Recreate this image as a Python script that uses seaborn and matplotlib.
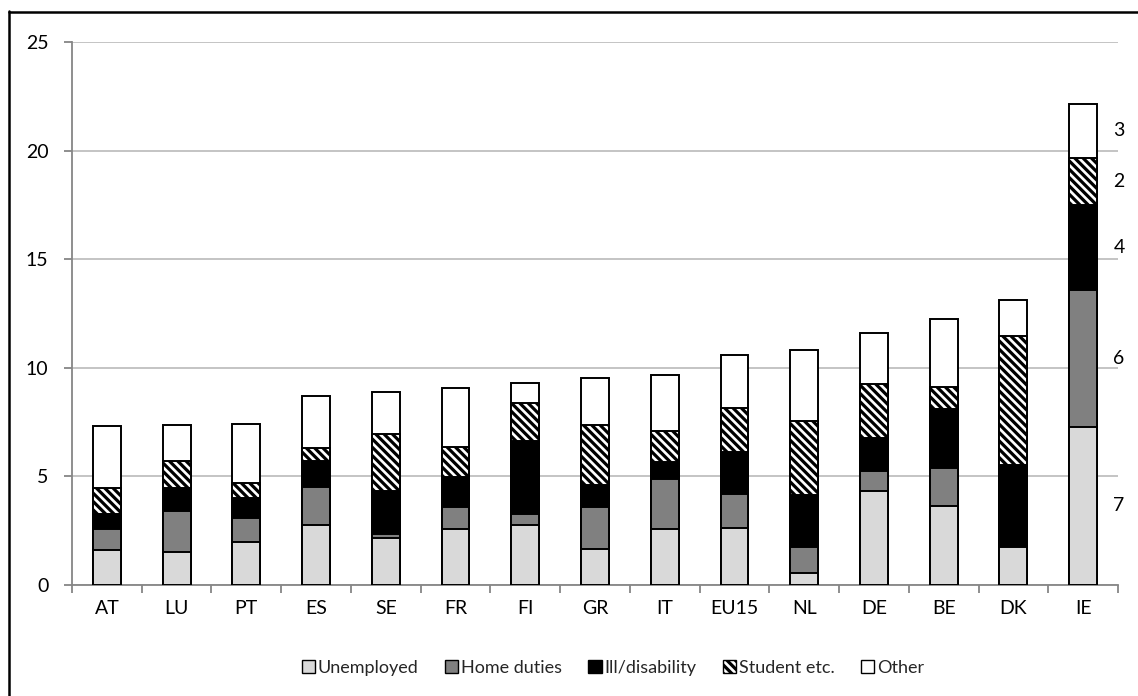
import numpy as np
import pandas as pd
import matplotlib
matplotlib.use("Agg")
import matplotlib.pyplot as plt
from matplotlib.patches import Patch
from matplotlib.lines import Line2D
import seaborn as sns

countries = ["AT", "LU", "PT", "ES", "SE", "FR", "FI", "GR", "IT", "EU15", "NL", "DE", "BE", "DK", "IE"]
unemployed = [1.63, 1.51, 1.98, 2.76, 2.17, 2.57, 2.76, 1.64, 2.57, 2.63, 0.57, 4.31, 3.63, 1.77, 7.29]
home_duties = [0.97, 1.90, 1.09, 1.73, 0.16, 1.04, 0.51, 1.97, 2.31, 1.58, 1.17, 0.94, 1.76, 0.00, 6.31]
ill_disability = [0.67, 1.06, 0.92, 1.22, 2.00, 1.34, 3.34, 0.98, 0.79, 1.92, 2.39, 1.53, 2.73, 3.75, 3.91]
student = [1.18, 1.24, 0.71, 0.60, 2.63, 1.41, 1.78, 2.78, 1.44, 2.04, 3.40, 2.48, 0.98, 5.93, 2.17]
other = [2.85, 1.65, 2.73, 2.38, 1.93, 2.73, 0.92, 2.14, 2.54, 2.41, 3.30, 2.32, 3.16, 1.66, 2.48]
series_names = ["Unemployed", "Home duties", "Ill/disability", "Student etc.", "Other"]
ie_rank_labels = ["7", "6", "4", "2", "3"]

series = [unemployed, home_duties, ill_disability, student, other]
facecolors = ["#D9D9D9", "#808080", "#000000", "#FFFFFF", "#FFFFFF"]
hatches = [None, None, None, "\\\\\\\\", None]

sns.set_theme(style="white")
plt.rcParams["font.family"] = ["Lato", "DejaVu Sans"]
plt.rcParams["hatch.linewidth"] = 2.3
plt.rcParams["hatch.color"] = "black"

fig = plt.figure(figsize=(11.38, 6.96), dpi=100)
ax = fig.add_axes([72 / 1138, 1 - 585 / 696, (1118 - 72) / 1138, (585 - 42) / 696])

cum = np.zeros(len(countries))
cums = []
for s in series:
    cum = cum + np.array(s)
    cums.append(cum.copy())

# draw cumulative totals from top layer to bottom layer (overlapping)
for i in reversed(range(len(series))):
    d = pd.DataFrame({"country": countries, "value": cums[i]})
    sns.barplot(data=d, x="country", y="value", order=countries, ax=ax,
                color=facecolors[i], saturation=1, width=0.4,
                edgecolor="black", linewidth=1.4, hatch=hatches[i], zorder=3)

ax.set_ylim(0, 25)
ax.set_xlim(-0.5, len(countries) - 0.5)
ax.set_xlabel("")
ax.set_ylabel("")
ax.set_yticks(range(0, 26, 5))
ax.yaxis.grid(True, color="#BFBFBF", linewidth=1.3, zorder=0)
ax.xaxis.grid(False)
ax.set_axisbelow(True)

for sp in ["top", "right"]:
    ax.spines[sp].set_visible(False)
for sp in ["left", "bottom"]:
    ax.spines[sp].set_color("#868686")
    ax.spines[sp].set_linewidth(1.3)

ax.tick_params(axis="y", which="major", direction="out", length=6, width=1.3,
               color="#868686", labelsize=14, pad=11, left=True)
ax.tick_params(axis="x", which="major", length=0, labelsize=14, pad=11)
ax.set_xticks(np.arange(-0.5, len(countries), 1.0), minor=True)
ax.tick_params(axis="x", which="minor", direction="out", length=6, width=1.3,
               color="#868686", bottom=True)
for lab in ax.get_xticklabels() + ax.get_yticklabels():
    lab.set_color("black")

# rank labels to the right of IE bar, at segment midpoints
ie = len(countries) - 1
trans = matplotlib.transforms.blended_transform_factory(fig.transFigure, ax.transData)
prev = 0.0
for i, lab in enumerate(ie_rank_labels):
    top = cums[i][ie]
    mid = (prev + top) / 2
    prev = top
    ax.text(1119 / 1138, mid, lab, transform=trans, ha="center", va="center",
            fontsize=14, color="black")

handles = [Patch(facecolor=facecolors[i], edgecolor="black", linewidth=1.0,
                 hatch=hatches[i], label=series_names[i]) for i in range(len(series))]
fig.legend(handles=handles, loc="center", bbox_to_anchor=(613 / 1138, 1 - 668 / 696),
           ncol=5, frameon=False, fontsize=13, handlelength=0.75, handleheight=0.75,
           handletextpad=0.15, columnspacing=1.45)

# outer border (left and top visible)
fig.add_artist(Line2D([8.5 / 1138, 8.5 / 1138], [0, 1 - 11 / 696], transform=fig.transFigure,
                      color="black", linewidth=1.8))
fig.add_artist(Line2D([8.5 / 1138, 1], [1 - 11.5 / 696, 1 - 11.5 / 696], transform=fig.transFigure,
                      color="black", linewidth=1.8))

fig.savefig("out.png", dpi=100, facecolor="white")
